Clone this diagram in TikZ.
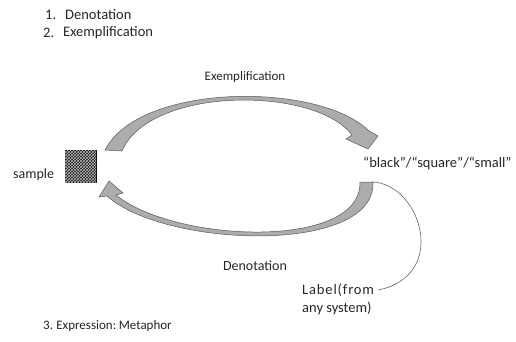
\documentclass[tikz,border=0pt]{standalone}
\usepackage{fontspec}
\setmainfont{Carlito}
\usetikzlibrary{patterns}
\begin{document}
\begin{tikzpicture}[x=1pt,y=-1pt,
  txt/.style={font=\fontsize{14.5}{17}\selectfont, inner sep=0pt, text=black!85},
  band/.style={fill=gray!65, draw=black!65, line width=0.5pt, line join=round},
  thin/.style={draw=black!60, line width=0.6pt}]
\useasboundingbox (0,0) rectangle (516,341);
% list
\node[txt, anchor=west] (n1) at (45,15) {1.};
\node[txt, anchor=west] (d1) at (65,15) {Denotation};
\node[txt, anchor=west] (n2) at (43,33) {2.};
\node[txt, anchor=west] (e1) at (63,33) {Exemplification};
% labels
\node[txt, font=\fontsize{13}{15}\selectfont] (ex) at (245,77) {Exemplification};
\node[txt, font=\fontsize{14}{16}\selectfont] (de) at (255,266) {Denotation};
\node[txt, anchor=west, font=\fontsize{14}{16}\selectfont] (sl) at (13,175) {sample};
\node[txt, anchor=west] (bl) at (363,163) {“black”/“square”/“small”};
\node[txt, anchor=west, align=left, font=\fontsize{14.5}{18}\selectfont] (lab) at (302,299) {{\addfontfeature{LetterSpace=6}Label(from}\\any system)};
\node[txt, anchor=west, font=\fontsize{13}{15}\selectfont] (m3) at (43,326) {\spaceskip=0.12em 3.\hspace{0.25em}Expression: Metaphor};
% sample square
\node[draw=black, fill=black!90, minimum width=31pt, minimum height=32pt, inner sep=0pt,
  postaction={pattern=crosshatch, pattern color=gray!55}] (sq) at (80.5,166) {};
% upper band arrow
\path[band] (105,150) .. controls (140,82) and (320,82) .. (369,131)
  -- (378,136) -- (368,149) -- (346,139) -- (352,135)
  .. controls (315,86) and (150,86) .. (122,151) -- cycle;
% lower band arrow
\path[band] (373,182) .. controls (376,255) and (165,248) .. (107,196)
  -- (99,197) -- (109,181) -- (123,193) -- (116,195)
  .. controls (175,243) and (362,250) .. (360,182) -- cycle;
% thin connector
\coordinate (cs) at (372,182);
\draw[thin] (cs) .. controls (420,183) and (450,275) .. ([xshift=4pt]lab.east |- 0,290);
\end{tikzpicture}
\end{document}
